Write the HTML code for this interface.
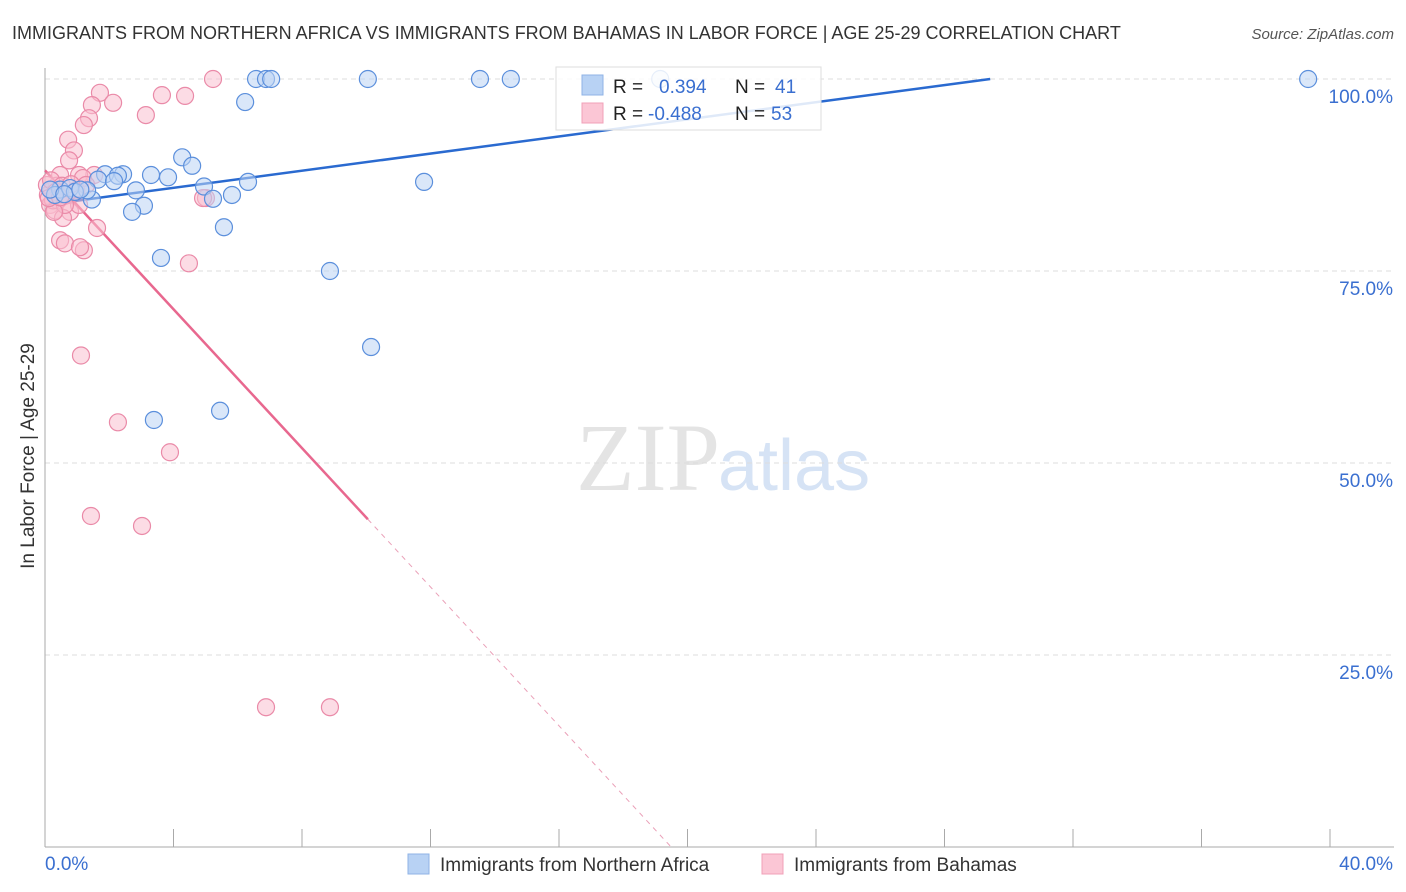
<!DOCTYPE html>
<html><head><meta charset="utf-8"><style>
body{margin:0;background:#fff;font-family:"Liberation Sans",sans-serif;}
#wrap{position:relative;width:1406px;height:892px;overflow:hidden;}
</style></head><body>
<div id="wrap">
<svg id="chart" width="1406" height="892" xmlns="http://www.w3.org/2000/svg">
<text x="12" y="39" font-size="18" fill="#333">IMMIGRANTS FROM NORTHERN AFRICA VS IMMIGRANTS FROM BAHAMAS IN LABOR FORCE | AGE 25-29 CORRELATION CHART</text>
<text x="1394" y="39" font-size="15" fill="#555" font-style="italic" text-anchor="end">Source: ZipAtlas.com</text>
<text x="720" y="490" font-size="96" fill="#e4e4e4" text-anchor="end" font-family="Liberation Serif,serif">ZIP</text>
<text x="718" y="490" font-size="72" fill="#d6e3f5">atlas</text>
<g id="grid"></g><g id="axes"></g><g id="trend"></g><g id="pts"></g>
<g>
<rect x="556" y="67" width="265" height="63" fill="#fff" fill-opacity="0.85" stroke="#ddd"/>
<rect x="582" y="75" width="21" height="20" fill="#b8d2f4" stroke="#8fb3e6"/>
<rect x="582" y="103" width="21" height="20" fill="#fbc6d5" stroke="#f0a0b8"/>
<text x="613" y="93" font-size="19" fill="#222">R =</text>
<text x="659" y="93" font-size="19" fill="#3a6fd0">0.394</text>
<text x="735" y="93" font-size="19" fill="#222">N =</text>
<text x="775" y="93" font-size="19" fill="#3a6fd0">41</text>
<text x="613" y="120" font-size="19" fill="#222">R =</text>
<text x="648" y="120" font-size="19" fill="#3a6fd0">-0.488</text>
<text x="735" y="120" font-size="19" fill="#222">N =</text>
<text x="771" y="120" font-size="19" fill="#3a6fd0">53</text>
</g>
<g>
<rect x="408" y="854" width="21" height="20" fill="#b8d2f4" stroke="#8fb3e6"/>
<text x="440" y="871" font-size="19" fill="#333">Immigrants from Northern Africa</text>
<rect x="762" y="854" width="21" height="20" fill="#fbc6d5" stroke="#f0a0b8"/>
<text x="794" y="871" font-size="19" fill="#333">Immigrants from Bahamas</text>
</g>
<text transform="translate(34,456) rotate(-90)" font-size="19" fill="#333" text-anchor="middle">In Labor Force | Age 25-29</text>
</svg>
</div>
<script>
const yTicks=[25,50,75,100];
const yTickLabels=["25.0%","50.0%","75.0%","100.0%"];
const xTickLabels=["0.0%","40.0%"];
const blueX=[6.57,6.88,7.04,10.05,13.54,14.5,39.32,19.15,6.23,4.27,4.58,1.87,2.43,3.30,3.83,2.27,1.65,2.15,2.83,4.95,6.32,11.80,5.82,5.23,3.08,2.71,1.46,1.31,0.47,0.31,0.78,5.57,3.61,8.87,10.15,3.39,5.45,0.16,0.93,0.6,1.1];
const blueY=[100,100,100,100,100,100,100,100,97.0,89.8,88.7,87.6,87.6,87.5,87.2,87.4,86.9,86.7,85.5,86.0,86.6,86.6,84.9,84.4,83.5,82.7,84.3,85.5,85.6,84.9,85.8,80.7,76.7,75.0,65.1,55.6,56.8,85.6,85.3,85.0,85.6];
const pinkX=[5.23,1.71,3.64,4.36,2.12,1.46,1.37,3.14,1.21,0.72,0.90,0.75,1.53,1.06,1.18,0.47,0.22,0.37,0.09,0.16,0.31,0.78,0.56,0.40,0.65,0.97,1.06,5.01,4.92,1.62,0.47,0.62,1.21,1.09,4.48,1.12,2.27,3.89,1.43,3.02,6.88,8.87,0.25,0.06,0.19,0.34,0.53,1.28,0.81,0.62,0.28,0.12,0.47];
const pinkY=[100,98.2,97.9,97.8,96.9,96.6,94.9,95.3,94.0,92.1,90.7,89.4,87.5,87.5,87.1,87.5,85.5,86.1,84.9,83.6,82.9,82.7,81.9,84.2,84.9,85.5,83.6,84.5,84.5,80.6,79.0,78.6,77.7,78.1,76.0,64.0,55.3,51.4,43.1,41.8,18.2,18.2,84.2,86.2,86.8,85.3,86.1,86.2,86.3,83.6,82.7,84.5,84.6];
const blueTrend=[83.6,0.5574]; // intercept, slope
const pinkTrend=[88.1,-4.52];
const pinkSolidEnd=10.05;
const NS="http://www.w3.org/2000/svg";
const X=v=>45+v*(1285/40), Y=v=>847-v*7.68;
function mk(tag,attrs,parent){const e=document.createElementNS(NS,tag);for(const k in attrs)e.setAttribute(k,attrs[k]);document.getElementById(parent).appendChild(e);return e;}
yTicks.forEach((t,i)=>{
 const g=mk('line',{x1:45,x2:1394,y1:Y(t),y2:Y(t),stroke:'#ddd','stroke-dasharray':'5,4'},'grid');
 
 
 const l=mk('text',{x:1393,y:Y(t)+24,'font-size':19,fill:'#3a6fd0','text-anchor':'end'},'grid');
 l.textContent=yTickLabels[i];
 
 
});
const ya=mk('line',{x1:45,x2:45,y1:68,y2:847,stroke:'#aaa'},'axes');


const xa=mk('line',{x1:45,x2:1394,y1:847,y2:847,stroke:'#aaa'},'axes');


for(let v=0;v<=40;v+=4){
 const t=mk('line',{x1:X(v),x2:X(v),y1:829,y2:847,stroke:'#aaa'},'axes');
 
 
}
[[0,45,'start'],[40,1393,'end']].forEach((a,i)=>{
 const l=mk('text',{x:a[1],y:870,'font-size':19,fill:'#3a6fd0','text-anchor':a[2]},'axes');
 l.textContent=xTickLabels[i];
 
 
});
function draw(xs,ys,fill,stroke,name){xs.forEach((x,i)=>{
 const c=mk('circle',{cx:X(x),cy:Y(ys[i]),r:8.5,fill:fill,'fill-opacity':0.55,stroke:stroke,'stroke-width':1.2},'pts');
 
 
});}
draw(pinkX,pinkY,'#f9bfd0','#ea8aa8','point-bahamas');
draw(blueX,blueY,'#bcd4f4','#5b8fdc','point-northern-africa');
const bEnd=(100-blueTrend[0])/blueTrend[1];
const bl=mk('line',{x1:X(0),y1:Y(blueTrend[0]),x2:X(bEnd),y2:Y(100),stroke:'#2a6ad0','stroke-width':2.5},'trend');


const pe=pinkTrend[0]+pinkTrend[1]*pinkSolidEnd, pz=-pinkTrend[0]/pinkTrend[1];
const pl=mk('line',{x1:X(0),y1:Y(pinkTrend[0]),x2:X(pinkSolidEnd),y2:Y(pe),stroke:'#e8688f','stroke-width':2.5},'trend');


const pd=mk('line',{x1:X(pinkSolidEnd),y1:Y(pe),x2:X(pz),y2:Y(0),stroke:'#eaa0b8','stroke-width':1,'stroke-dasharray':'5,5'},'trend');


</script>
</body></html>
